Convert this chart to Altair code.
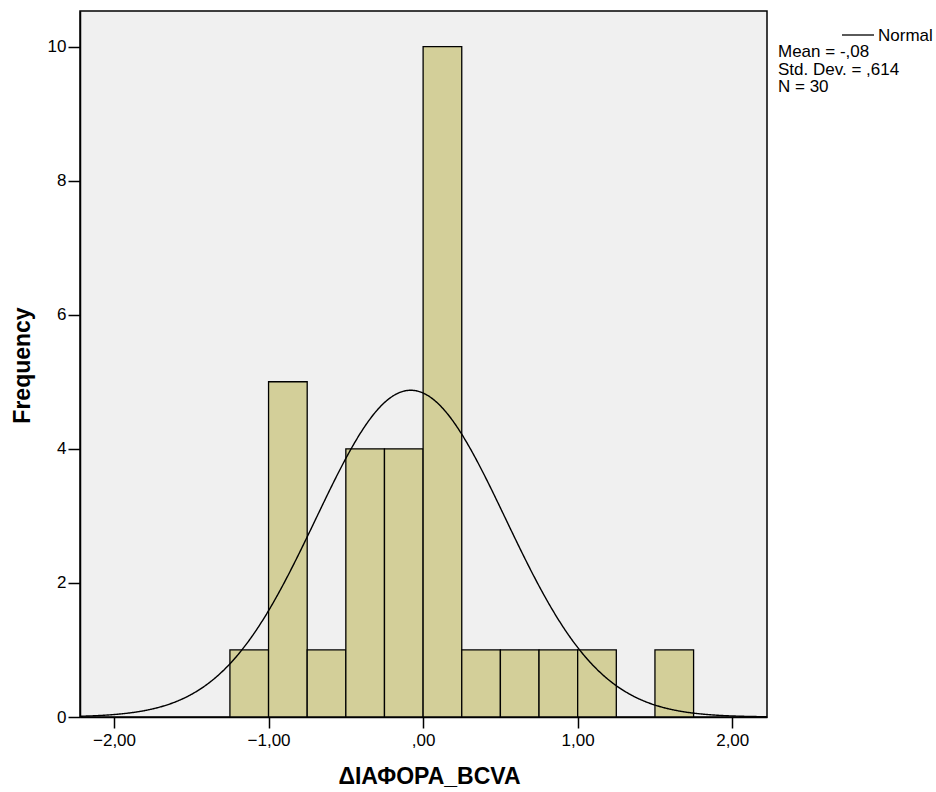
import altair as alt
import pandas as pd

# ---- data ----
bin_starts = [-1.25, -1.0, -0.75, -0.5, -0.25, 0.0, 0.25, 0.5, 0.75, 1.0, 1.25, 1.5]
counts = [1, 5, 1, 4, 4, 10, 1, 1, 1, 1, 0, 1]
bin_width = 0.25
mean = -0.08
std_dev = 0.614
n_obs = 30
x_ticks = [-2, -1, 0, 1, 2]
y_ticks = [0, 2, 4, 6, 8, 10]
legend_lines = ["Mean = -,08", "Std. Dev. = ,614", "N = 30"]

bars_df = pd.DataFrame({
    "start": bin_starts,
    "end": [b + bin_width for b in bin_starts],
    "count": counts,
})
bars_df = bars_df[bars_df["count"] > 0]

W, H = 687, 706
FONT = "Liberation Sans"

x_scale = alt.Scale(domain=[-2.22, 2.225], nice=False, zero=False)
y_scale = alt.Scale(domain=[0, 10.53], nice=False)

x_axis = alt.Axis(
    values=x_ticks,
    labelExpr="datum.value == 0 ? ',00' : replace(format(datum.value, '.2f'), '.', ',')",
    title="ΔΙΑΦΟΡΑ_BCVA",
    titleFont=FONT, titleFontSize=23, titleFontWeight="bold", titleColor="black",
    titleX=349, titleY=59, titleBaseline="middle", titleAnchor="middle", titleAlign="center",
    labelFont=FONT, labelFontSize=17, labelColor="black", labelPadding=4,
    tickSize=11, tickColor="black", tickWidth=1.5,
    domainColor="black", domainWidth=1.5, grid=False,
)
y_axis = alt.Axis(
    values=y_ticks, format="d",
    title="Frequency",
    titleFont=FONT, titleFontSize=23, titleFontWeight="bold", titleColor="black",
    titleX=-58, titleY=354, titleBaseline="middle", titleAlign="center", titleAngle=270,
    labelFont=FONT, labelFontSize=17, labelColor="black", labelPadding=2,
    tickSize=12, tickColor="black", tickWidth=1.5,
    domainColor="black", domainWidth=1.5, grid=False,
)

bars = alt.Chart(bars_df).mark_rect(
    fill="#D3CF99", stroke="black", strokeWidth=1.3
).encode(
    x=alt.X("start:Q", scale=x_scale, axis=x_axis),
    x2="end:Q",
    y=alt.Y("count:Q", scale=y_scale, axis=y_axis),
    y2=alt.datum(0),
)

curve = alt.Chart(alt.sequence(-2.22, 2.2251, 0.005, as_="x")).transform_calculate(
    y=f"{n_obs * bin_width} * densityNormal(datum.x, {mean}, {std_dev})"
).mark_line(color="black", strokeWidth=1.4, clip=True).encode(
    x=alt.X("x:Q", scale=x_scale),
    y=alt.Y("y:Q", scale=y_scale),
)

# legend: line sample + "Normal" + stats lines
layers = [bars, curve]
layers.append(
    alt.Chart(pd.DataFrame({"k": [0]})).mark_rule(color="black", strokeWidth=1.3)
    .encode(x=alt.value(762), x2=alt.value(794), y=alt.value(24))
)
layers.append(
    alt.Chart(pd.DataFrame({"t": ["Normal"]})).mark_text(
        font=FONT, fontSize=17, align="left", baseline="middle", color="black"
    ).encode(x=alt.value(798), y=alt.value(25), text="t:N")
)
for i, line in enumerate(legend_lines):
    layers.append(
        alt.Chart(pd.DataFrame({"t": [line]})).mark_text(
            font=FONT, fontSize=17, align="left", baseline="middle", color="black"
        ).encode(x=alt.value(698), y=alt.value(41 + 17.5 * i), text="t:N")
    )

chart = alt.layer(*layers).properties(
    width=W, height=H,
    autosize=alt.AutoSizeParams(type="none"),
    padding={"left": 80, "top": 11, "right": 169, "bottom": 75},
    background="white",
).configure_view(
    fill="#F0F0F0", stroke="black", strokeWidth=1.5,
)

chart.save("out.html", embed_options={"renderer": "svg", "actions": False})
